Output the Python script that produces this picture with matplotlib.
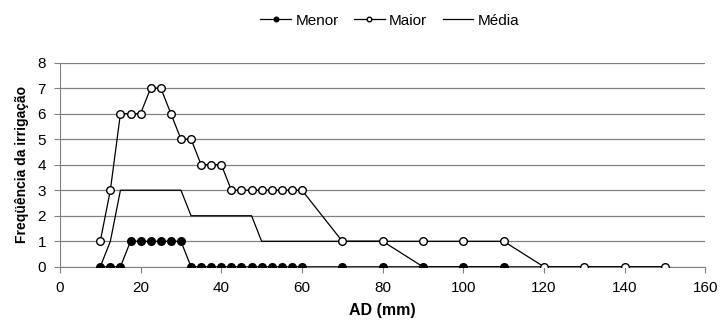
import matplotlib
matplotlib.use("Agg")
import matplotlib.pyplot as plt

plt.rcParams['font.family'] = ['Liberation Sans', 'DejaVu Sans']

# Valeurs
ad = [10, 12.5, 15, 17.5, 20, 22.5, 25, 27.5, 30, 32.5, 35, 37.5, 40, 42.5, 45,
      47.5, 50, 52.5, 55, 57.5, 60, 70, 80, 90, 100, 110, 120, 130, 140, 150]
menor = [0, 0, 0, 1, 1, 1, 1, 1, 1, 0, 0, 0, 0, 0, 0,
         0, 0, 0, 0, 0, 0, 0, 0, 0, 0, 0]
maior = [1, 3, 6, 6, 6, 7, 7, 6, 5, 5, 4, 4, 4, 3, 3,
         3, 3, 3, 3, 3, 3, 1, 1, 1, 1, 1, 0, 0, 0, 0]
media = [0, 1, 3, 3, 3, 3, 3, 3, 3, 2, 2, 2, 2, 2, 2,
         2, 1, 1, 1, 1, 1, 1, 1, 0, 0, 0, 0, 0, 0, 0]
xticks = [0, 20, 40, 60, 80, 100, 120, 140, 160]
yticks = [0, 1, 2, 3, 4, 5, 6, 7, 8]

fig = plt.figure(figsize=(7.22, 3.29), dpi=100)
ax = fig.add_axes([0.083, 0.189, 0.894, 0.621])

ax.plot(ad[:len(menor)], menor, color="black", lw=0.9, marker="o", ms=5.5,
        mfc="black", mec="black", label="Menor", zorder=3)
ax.plot(ad, maior, color="black", lw=0.9, marker="o", ms=5.5,
        mfc="white", mec="black", mew=1, label="Maior", zorder=4)
ax.plot(ad, media, color="black", lw=0.9, label="Média", zorder=2)

ax.set_xlim(0, 160)
ax.set_ylim(0, 8)
ax.set_xticks(xticks)
ax.set_yticks(yticks)
ax.yaxis.grid(True, color="#808080", lw=0.9)
ax.set_axisbelow(True)
for s in ["top", "right"]:
    ax.spines[s].set_visible(False)
ax.spines["left"].set_color("#808080")
ax.spines["bottom"].set_color("#808080")
ax.tick_params(direction="out", length=4, color="#808080", labelsize=11, pad=6)
ax.set_xlabel("AD (mm)", fontsize=11.5, fontweight="bold", labelpad=6)
ax.set_ylabel("Freqüência da irrigação", fontsize=10, fontweight="bold", labelpad=6)

fig.legend(loc="upper center", bbox_to_anchor=(0.54, 1.0), ncol=3, frameon=False,
           fontsize=11, handlelength=2.0, markerscale=0.6, columnspacing=1.0,
           handletextpad=0.3)

fig.savefig("out.png", dpi=100)
